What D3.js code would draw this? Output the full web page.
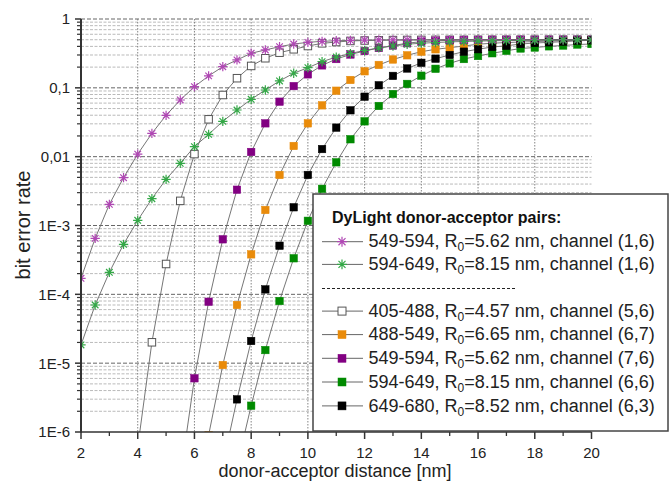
<!DOCTYPE html>
<html>
  <head>
    <meta charset="utf-8">
    <title>Bit error rate vs donor-acceptor distance</title>
    <script src="https://cdn.jsdelivr.net/npm/d3@7"></script>
    <style>
      body { margin: 0; background: #fff; }
      svg { display: block; font-family: "Liberation Sans", Arial, sans-serif; }
    </style>
  </head>
  <body>
    <svg id="chart" width="669" height="483">
      <defs>
        <clipPath id="plotClip"><rect id="clipRect"></rect></clipPath>
      </defs>
      <g id="gridGroup"></g>
      <g id="seriesGroup" clip-path="url(#plotClip)"></g>
      <g id="axisGroup"></g>
      <g id="legendGroup"></g>
    </svg>

    <script>
      // values (distance in nm, bit error rate)
      distances = [2, 2.5, 3, 3.5, 4, 4.5, 5, 5.5, 6, 6.5, 7, 7.5, 8, 8.5, 9, 9.5, 10, 10.5, 11, 11.5,
        12, 12.5, 13, 13.5, 14, 14.5, 15, 15.5, 16, 16.5, 17, 17.5, 18, 18.5, 19, 19.5, 20];

      ber405_488 = [null, null, null, null, 6e-7, 2.01e-5, 2.76e-4, 2.28e-3, 0.0109, 0.0349, 0.0787, 0.138,
        0.208, 0.269, 0.324, 0.363, 0.405, 0.443, 0.463, 0.48, 0.487, 0.491, 0.494, 0.496, 0.497, 0.498,
        0.499, 0.499, 0.5, 0.5, 0.5, 0.5, 0.5, 0.5, 0.5, 0.5, 0.5];
      ber488_549 = [null, null, null, null, null, null, null, null, null, 9e-7, 9.4e-6, 7.0e-5, 3.81e-4,
        1.68e-3, 5.42e-3, 0.0143, 0.0305, 0.0557, 0.0908, 0.13, 0.174, 0.215, 0.258, 0.297, 0.335, 0.363,
        0.383, 0.405, 0.43, 0.445, 0.455, 0.463, 0.47, 0.478, 0.483, 0.487, 0.49];
      ber549_594 = [null, null, null, null, null, null, null, 2.2e-7, 6.03e-6, 7.8e-5, 6.3e-4, 3.31e-3,
        0.0117, 0.0305, 0.0629, 0.106, 0.157, 0.212, 0.262, 0.305, 0.343, 0.379, 0.412, 0.445, 0.468,
        0.482, 0.49, 0.494, 0.496, 0.497, 0.498, 0.499, 0.499, 0.5, 0.5, 0.5, 0.5];
      ber594_649 = [null, null, null, null, null, null, null, null, null, null, null, 3.2e-7, 2.41e-6,
        1.55e-5, 8.0e-5, 3.34e-4, 1.17e-3, 3.41e-3, 8.28e-3, 0.0179, 0.0326, 0.0545, 0.0813, 0.114, 0.15,
        0.189, 0.227, 0.262, 0.29, 0.318, 0.345, 0.373, 0.385, 0.401, 0.412, 0.426, 0.433];
      ber649_680 = [null, null, null, null, null, null, null, null, null, null, 3.35e-7, 2.98e-6, 2.1e-5,
        1.18e-4, 5.08e-4, 1.84e-3, 5.42e-3, 0.0129, 0.0264, 0.0472, 0.0743, 0.109, 0.149, 0.191, 0.231,
        0.265, 0.3, 0.335, 0.364, 0.392, 0.408, 0.433, 0.448, 0.458, 0.468, 0.483, 0.49];
      ber549_594_ch16 = [1.71e-4, 6.5e-4, 2.03e-3, 4.95e-3, 0.0109, 0.0218, 0.0399, 0.0666, 0.104, 0.149,
        0.203, 0.254, 0.318, 0.355, 0.396, 0.433, 0.458, 0.474, 0.483, 0.49, 0.494, 0.496, 0.497, 0.498,
        0.498, 0.499, 0.499, 0.499, 0.5, 0.5, 0.5, 0.5, 0.5, 0.5, 0.5, 0.5, 0.5];
      ber594_649_ch16 = [1.84e-5, 7.0e-5, 2.09e-4, 5.33e-4, 1.19e-3, 2.45e-3, 4.69e-3, 8.0e-3, 0.014,
        0.0211, 0.0326, 0.0476, 0.0681, 0.093, 0.126, 0.163, 0.196, 0.24, 0.28, 0.315, 0.35, 0.38, 0.405,
        0.43, 0.445, 0.455, 0.465, 0.472, 0.478, 0.482, 0.486, 0.489, 0.491, 0.493, 0.495, 0.496, 0.497];

      pairNames = ["549-594", "594-649", "405-488", "488-549", "549-594", "594-649", "649-680"];
      forsterRadii = ["5.62", "8.15", "4.57", "6.65", "5.62", "8.15", "8.52"];
      channels = ["(1,6)", "(1,6)", "(5,6)", "(6,7)", "(7,6)", "(6,6)", "(6,3)"];

      xTicks = [2, 4, 6, 8, 10, 12, 14, 16, 18, 20];
      xMinorTicks = [3, 5, 7, 9, 11, 13, 15, 17, 19];
      yTicks = [1, 0.1, 0.01, 1e-3, 1e-4, 1e-5, 1e-6];
      yTickLabels = ["1", "0,1", "0,01", "1E-3", "1E-4", "1E-5", "1E-6"];

      // series styles, in legend order
      seriesList = [
        { values: ber549_594_ch16, symbol: "star", color: "#b048b4" },
        { values: ber594_649_ch16, symbol: "star", color: "#34a847" },
        { values: ber405_488, symbol: "open", color: "#555" },
        { values: ber488_549, symbol: "square", color: "#e98b0a" },
        { values: ber549_594, symbol: "square", color: "#820082" },
        { values: ber594_649, symbol: "square", color: "#008a00" },
        { values: ber649_680, symbol: "square", color: "#000" }
      ];
      seriesList.forEach(function(s, i) {
        s.pair = pairNames[i];
        s.r0 = forsterRadii[i];
        s.channel = channels[i];
        s.points = distances.map(function(d, j) {
          return { x: d, y: s.values[j] };
        });
      });

      // page elements
      chart = d3.select("#chart");
      gridGroup = d3.select("#gridGroup");
      seriesGroup = d3.select("#seriesGroup");
      axisGroup = d3.select("#axisGroup");
      legendGroup = d3.select("#legendGroup");

      margin = { top: 19, right: 77.5, bottom: 51, left: 81 };
      width = 669;
      height = 483;

      x = d3.scaleLinear()
        .domain([2, 20])
        .range([margin.left, width - margin.right]);
      y = d3.scaleLog()
        .domain([1e-6, 1])
        .range([height - margin.bottom, margin.top]);

      d3.select("#clipRect")
        .attr("x", x(2))
        .attr("y", 0)
        .attr("width", x(20) - x(2))
        .attr("height", y(1e-6));

      // grid
      minorValues = [];
      for (e = -6; e < 0; e++) {
        for (k = 2; k <= 9; k++) minorValues.push(k * Math.pow(10, e));
      }
      gridGroup.selectAll(".minorGrid")
        .data(minorValues)
        .join("line")
          .attr("x1", x(2))
          .attr("x2", x(20))
          .attr("y1", function(d) { return y(d); })
          .attr("y2", function(d) { return y(d); })
          .attr("stroke", "#a8a8a8")
          .attr("stroke-width", 0.8)
          .attr("stroke-dasharray", "3,1.5");
      gridGroup.selectAll(".majorGrid")
        .data(yTicks.slice(0, -1))
        .join("line")
          .attr("x1", x(2))
          .attr("x2", x(20))
          .attr("y1", function(d) { return y(d); })
          .attr("y2", function(d) { return y(d); })
          .attr("stroke", "#555")
          .attr("stroke-width", 0.9)
          .attr("stroke-dasharray", "4,2");
      gridGroup.selectAll(".vGrid")
        .data(xTicks.slice(1, -1))
        .join("line")
          .attr("x1", function(d) { return x(d); })
          .attr("x2", function(d) { return x(d); })
          .attr("y1", y(1))
          .attr("y2", y(1e-6))
          .attr("stroke", "#777")
          .attr("stroke-width", 0.9)
          .attr("stroke-dasharray", "1.5,1.5");

      // series lines and markers
      line = d3.line()
        .defined(function(d) { return d.y != null; })
        .x(function(d) { return x(d.x); })
        .y(function(d) { return y(d.y); });

      drawOrder = [2, 3, 4, 5, 6, 0, 1];

      drawOrder.forEach(function(i) {
        s = seriesList[i];
        seriesGroup.append("path")
          .datum(s.points)
          .attr("d", line)
          .attr("fill", "none")
          .attr("stroke", "#666")
          .attr("stroke-width", 0.9);
      });

      function starPath(r) {
        a = r * 0.7071;
        return "M" + (-r) + ",0L" + r + ",0M0," + (-r) + "L0," + r +
          "M" + (-a) + "," + (-a) + "L" + a + "," + a +
          "M" + (-a) + "," + a + "L" + a + "," + (-a);
      }

      function drawMarker(g, s, size) {
        if (s.symbol === "star") {
          g.append("path")
            .attr("d", starPath(size * 0.62))
            .attr("fill", "none")
            .attr("stroke", s.color)
            .attr("stroke-width", 1.2);
        } else {
          g.append("rect")
            .attr("x", -size / 2)
            .attr("y", -size / 2)
            .attr("width", size)
            .attr("height", size)
            .attr("fill", s.symbol === "open" ? "#fff" : s.color)
            .attr("stroke", s.color)
            .attr("stroke-width", s.symbol === "open" ? 1 : 0.5);
        }
      }

      drawOrder.forEach(function(i) {
        s = seriesList[i];
        s.points
          .filter(function(d) { return d.y != null; })
          .forEach(function(d) {
            g = seriesGroup.append("g")
              .attr("transform", "translate(" + x(d.x) + "," + y(d.y) + ")");
            drawMarker(g, s, 7.5);
          });
      });

      // axes
      axisGroup.append("line")
        .attr("x1", x(2)).attr("x2", x(20))
        .attr("y1", y(1e-6)).attr("y2", y(1e-6))
        .attr("stroke", "#333").attr("stroke-width", 1.5);
      axisGroup.append("line")
        .attr("x1", x(2)).attr("x2", x(2))
        .attr("y1", y(1)).attr("y2", y(1e-6) + 0.75)
        .attr("stroke", "#333").attr("stroke-width", 2);

      axisGroup.selectAll(".yMinor")
        .data(minorValues)
        .join("line")
          .attr("x1", x(2) - 4)
          .attr("x2", x(2))
          .attr("y1", function(d) { return y(d); })
          .attr("y2", function(d) { return y(d); })
          .attr("stroke", "#333")
          .attr("stroke-width", 1.2);
      axisGroup.selectAll(".yMajor")
        .data(yTicks)
        .join("line")
          .attr("x1", x(2) - 6)
          .attr("x2", x(2))
          .attr("y1", function(d) { return y(d); })
          .attr("y2", function(d) { return y(d); })
          .attr("stroke", "#333")
          .attr("stroke-width", 1.5);
      axisGroup.selectAll(".yLabel")
        .data(yTicks)
        .join("text")
          .attr("x", 70)
          .attr("y", function(d) { return y(d); })
          .attr("dy", "0.36em")
          .attr("text-anchor", "end")
          .attr("font-size", 15)
          .attr("fill", "#222")
          .text(function(d, i) { return yTickLabels[i]; });

      axisGroup.selectAll(".xMinor")
        .data(xMinorTicks)
        .join("line")
          .attr("x1", function(d) { return x(d); })
          .attr("x2", function(d) { return x(d); })
          .attr("y1", y(1e-6))
          .attr("y2", y(1e-6) + 4)
          .attr("stroke", "#333")
          .attr("stroke-width", 1.3);
      axisGroup.selectAll(".xMajor")
        .data(xTicks)
        .join("line")
          .attr("x1", function(d) { return x(d); })
          .attr("x2", function(d) { return x(d); })
          .attr("y1", y(1e-6))
          .attr("y2", y(1e-6) + 7)
          .attr("stroke", "#333")
          .attr("stroke-width", 1.5);
      axisGroup.selectAll(".xLabel")
        .data(xTicks)
        .join("text")
          .attr("x", function(d) { return x(d); })
          .attr("y", 457.5)
          .attr("text-anchor", "middle")
          .attr("font-size", 15)
          .attr("fill", "#222")
          .text(function(d) { return d; });

      axisGroup.append("text")
        .attr("x", 335)
        .attr("y", 477)
        .attr("text-anchor", "middle")
        .attr("font-size", 18)
        .attr("fill", "#222")
        .text("donor-acceptor distance [nm]");
      axisGroup.append("text")
        .attr("transform", "translate(30,225) rotate(-90)")
        .attr("text-anchor", "middle")
        .attr("font-size", 20)
        .attr("fill", "#222")
        .text("bit error rate");

      // legend
      legendGroup.append("rect")
        .attr("x", 313)
        .attr("y", 194)
        .attr("width", 355)
        .attr("height", 237)
        .attr("fill", "#fff")
        .attr("stroke", "#444")
        .attr("stroke-width", 1.5);
      legendGroup.append("text")
        .attr("x", 332)
        .attr("y", 223)
        .attr("font-size", 16)
        .attr("font-weight", "bold")
        .attr("fill", "#111")
        .text("DyLight donor-acceptor pairs:");
      legendGroup.append("line")
        .attr("x1", 322)
        .attr("x2", 515)
        .attr("y1", 288.5)
        .attr("y2", 288.5)
        .attr("stroke", "#222")
        .attr("stroke-width", 1.2)
        .attr("stroke-dasharray", "3,2");

      legendRows = [247.3, 270, 316.7, 340.2, 363.9, 387.6, 411.5];
      seriesList.forEach(function(s, i) {
        row = legendGroup.append("g")
          .attr("transform", "translate(0," + legendRows[i] + ")");
        row.append("line")
          .attr("x1", 322)
          .attr("x2", 363)
          .attr("y1", -5.6)
          .attr("y2", -5.6)
          .attr("stroke", "#666")
          .attr("stroke-width", 1);
        marker = row.append("g")
          .attr("transform", "translate(342,-5.6)");
        drawMarker(marker, s, 8);
        label = row.append("text")
          .attr("x", 368.5)
          .attr("y", 0)
          .attr("font-size", 18)
          .attr("fill", "#222");
        label.append("tspan").text(s.pair + ", R");
        label.append("tspan")
          .attr("font-size", 12)
          .attr("dy", 4)
          .text("0");
        label.append("tspan")
          .attr("dy", -4)
          .text("=" + s.r0 + " nm, channel " + s.channel);
      });
    </script>
  </body>
</html>
